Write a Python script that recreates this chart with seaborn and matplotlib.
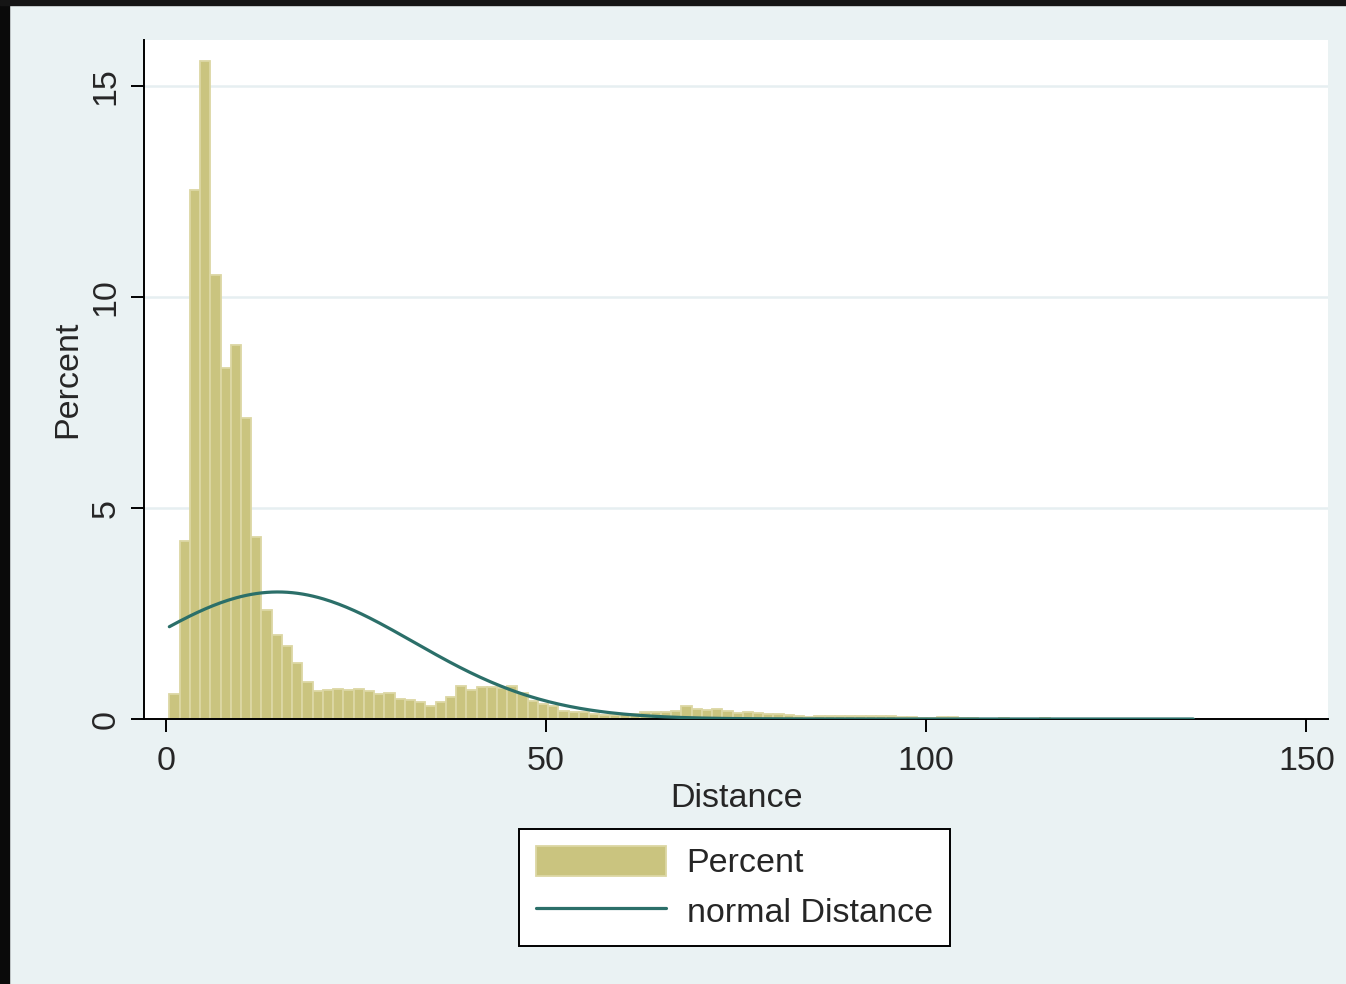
import numpy as np
import pandas as pd
import matplotlib
matplotlib.use("Agg")
import matplotlib.pyplot as plt
from matplotlib.patches import Patch, Rectangle
from matplotlib.lines import Line2D
import seaborn as sns

# histogram bins (Distance) and bar heights in percent
bin_start = 0.43
bin_width = 1.347
n_bins = 100
percent = [
    0.59, 4.22, 12.53, 15.60, 10.52, 8.33, 8.87, 7.13, 4.32, 2.58,
    2.00, 1.74, 1.32, 0.88, 0.67, 0.69, 0.72, 0.69, 0.72, 0.66,
    0.59, 0.62, 0.47, 0.44, 0.41, 0.31, 0.40, 0.51, 0.78, 0.69,
    0.77, 0.75, 0.73, 0.78, 0.61, 0.43, 0.35, 0.30, 0.20, 0.16,
    0.16, 0.13, 0.10, 0.10, 0.11, 0.13, 0.16, 0.16, 0.17, 0.20,
    0.31, 0.23, 0.22, 0.23, 0.18, 0.14, 0.16, 0.15, 0.12, 0.12,
    0.09, 0.08, 0.05, 0.07, 0.07, 0.07, 0.07, 0.07, 0.07, 0.07,
    0.07, 0.04, 0.05, 0.03, 0.02, 0.05, 0.05, 0.02, 0.02, 0.01,
    0.01, 0.02, 0.01, 0.01, 0.01, 0.02, 0.01, 0.01, 0.01, 0.01,
    0.01, 0.01, 0.01, 0.01, 0.01, 0.01, 0.01, 0.01, 0.01, 0.01,
]
# fitted normal overlay
dist_mean = 14.7
dist_sd = 17.85

x_ticks = [0, 50, 100, 150]
y_ticks = [0, 5, 10, 15]

edges = (bin_start + bin_width * np.arange(n_bins + 1)).tolist()
centers = [(a + b) / 2 for a, b in zip(edges[:-1], edges[1:])]
df = pd.DataFrame({"Distance": centers, "Percent": percent})

xs = np.linspace(edges[0], edges[-1], 400)
curve = pd.DataFrame({
    "Distance": xs,
    "normal": 100 * bin_width * np.exp(-0.5 * ((xs - dist_mean) / dist_sd) ** 2)
              / (dist_sd * np.sqrt(2 * np.pi)),
})

sns.set_style("white")
plt.rcParams["font.family"] = ["Liberation Sans", "DejaVu Sans"]

bg = "#EAF2F3"
bar_fill = "#CAC47F"
bar_edge = "#DCD7A4"
line_col = "#2B6F69"

fig = plt.figure(figsize=(13.46, 9.84), dpi=100, facecolor=bg)
ax = fig.add_axes([0.107, 0.2693, 0.8799, 0.6900])
ax.set_facecolor("white")

for y in y_ticks[1:]:
    ax.axhline(y, color="#E6EFF1", lw=1.8, zorder=0)

sns.histplot(data=df, x="Distance", weights="Percent", bins=edges,
             color=bar_fill, edgecolor=bar_edge, linewidth=1.3, alpha=1,
             ax=ax, zorder=2)
sns.lineplot(data=curve, x="Distance", y="normal", color=line_col, lw=2.3,
             ax=ax, zorder=3)

ax.set_xlim(-2.9, 152.9)
ax.set_ylim(0, 16.09)
ax.set_xticks(x_ticks)
ax.set_yticks(y_ticks)
ax.tick_params(axis="both", direction="out", length=9.4, width=1.4,
               color="black", labelsize=24.5, bottom=True, left=True)
ax.tick_params(axis="x", pad=10)
ax.tick_params(axis="y", pad=7)
for lab in ax.get_yticklabels():
    lab.set_rotation(90)
    lab.set_va("center")
ax.set_xlabel("Distance", fontsize=24.5, labelpad=4)
ax.set_ylabel("Percent", fontsize=24.5, labelpad=5)

for s in ["top", "right"]:
    ax.spines[s].set_visible(False)
for s in ["left", "bottom"]:
    ax.spines[s].set_color("black")
    ax.spines[s].set_linewidth(1.4)

handles = [
    Patch(facecolor=bar_fill, edgecolor=bar_edge, linewidth=1.3, label="Percent"),
    Line2D([0], [0], color=line_col, lw=2.3, label="normal Distance"),
]
leg = fig.legend(handles=handles, loc="center", bbox_to_anchor=(0.5457, 0.0985),
                 fontsize=24.5, frameon=True, fancybox=False, framealpha=1,
                 edgecolor="black", facecolor="white", handlelength=3.8,
                 handleheight=1.0, handletextpad=0.62, labelspacing=0.45,
                 borderpad=0.5)
leg.get_frame().set_linewidth(1.4)

# dark screenshot border on the left and top
fig.patches.append(Rectangle((0, 0), 9 / 1346, 1, transform=fig.transFigure,
                             color="#0A0A0A", zorder=10))
fig.patches.append(Rectangle((0, 1 - 4.5 / 984), 1, 4.5 / 984,
                             transform=fig.transFigure, color="#151515", zorder=10))

fig.savefig("out.png", dpi=100, facecolor=bg)
